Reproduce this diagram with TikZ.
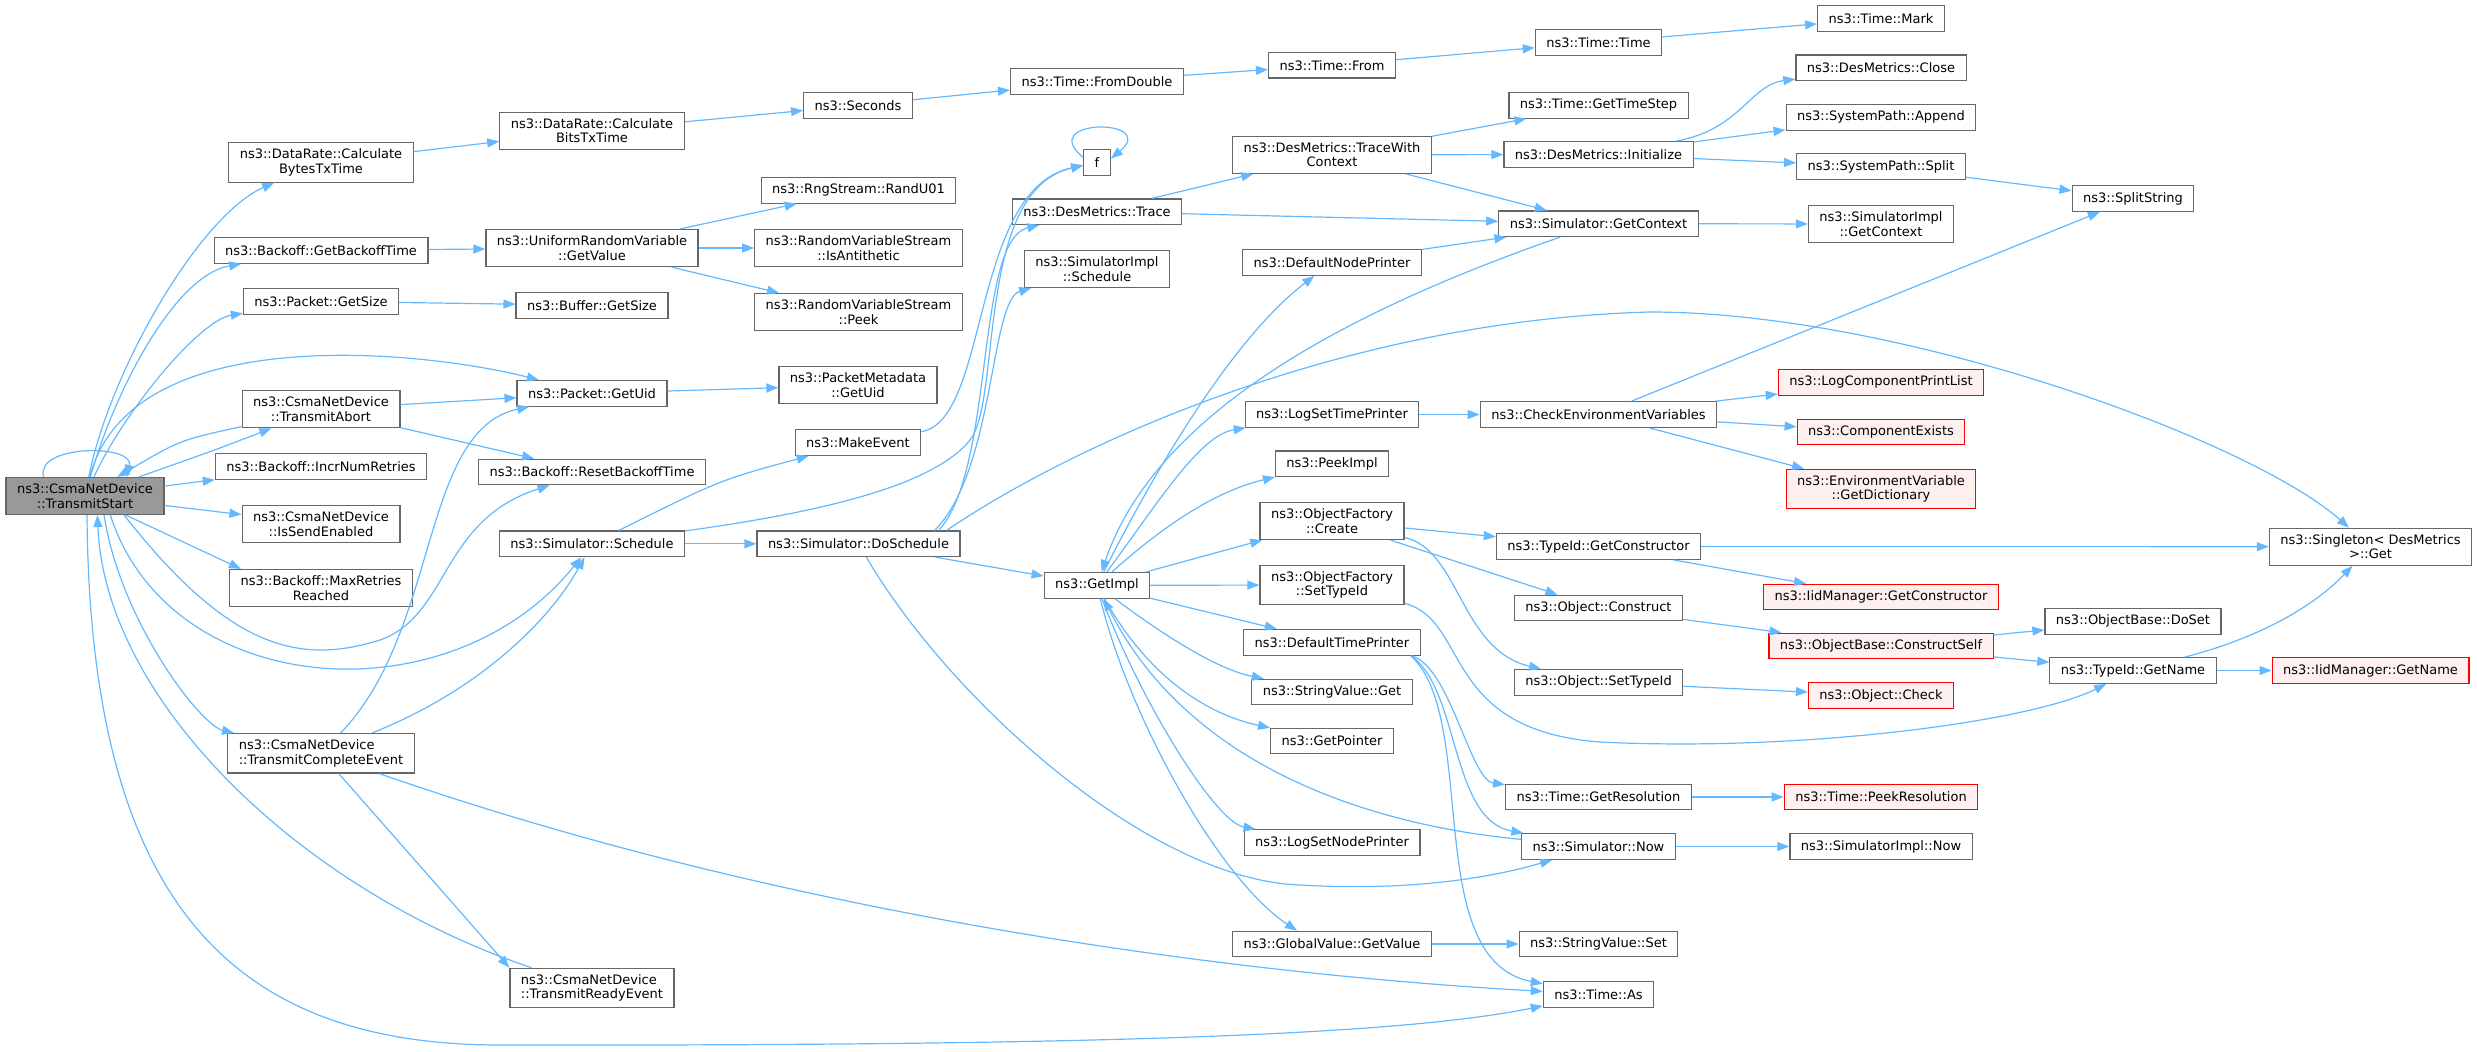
\documentclass[tikz,border=0pt]{standalone}
\usepackage{fontspec}
\setmainfont{DejaVu Sans}
\usetikzlibrary{arrows.meta}
\definecolor{edgeblue}{HTML}{63B8FF}
\definecolor{nodegray}{HTML}{666666}
\definecolor{curfill}{HTML}{999999}
\definecolor{redfill}{HTML}{FFF0F0}
\definecolor{redline}{HTML}{FF0000}
\begin{document}
\begin{tikzpicture}[x=1pt, y=-1pt,
	fn/.style = {draw = nodegray, fill = white, line width = 1.2pt, font = \fontsize{13}{14.5}\selectfont, inner xsep = 11pt, inner ysep = 6.2pt, minimum height = 25.6pt, align = center},
	fnleft/.style = {fn, align = left},
	fnred/.style = {fn, draw = redline, fill = redfill},
	fncur/.style = {fn, fill = curfill},
	call/.style = {draw = edgeblue, line width = 1.2pt, -{Triangle[length = 12pt, width = 9pt]}}]
	\useasboundingbox (0, 0) rectangle (2477, 1052);

	\node[fncur] (ts) at (85, 496) {ns3::CsmaNetDevice\\::TransmitStart};

	\node[fn] (bytesTx) at (321, 162.5) {ns3::DataRate::Calculate\\BytesTxTime};
	\node[fn] (getBackoff) at (321, 250.5) {ns3::Backoff::GetBackoffTime};
	\node[fn] (pktSize) at (321, 301.3) {ns3::Packet::GetSize};
	\node[fn] (txAbort) at (321, 409.3) {ns3::CsmaNetDevice\\::TransmitAbort};
	\node[fn] (incrRetries) at (321, 466.5) {ns3::Backoff::IncrNumRetries};
	\node[fn] (sendEnabled) at (321, 524) {ns3::CsmaNetDevice\\::IsSendEnabled};
	\node[fn] (maxRetries) at (321, 588) {ns3::Backoff::MaxRetries\\Reached};
	\node[fnleft] (txComplete) at (321, 753.3) {ns3::CsmaNetDevice\\::TransmitCompleteEvent};

	\node[fn] (bitsTx) at (592, 130.7) {ns3::DataRate::Calculate\\BitsTxTime};
	\node[fn] (urvGet) at (592, 248) {ns3::UniformRandomVariable\\::GetValue};
	\node[fn] (bufSize) at (592, 305.3) {ns3::Buffer::GetSize};
	\node[fn] (pktUid) at (592, 393.3) {ns3::Packet::GetUid};
	\node[fn] (resetBackoff) at (592, 472) {ns3::Backoff::ResetBackoffTime};
	\node[fn] (simSchedule) at (592, 543.8) {ns3::Simulator::Schedule};
	\node[fnleft] (txReady) at (592, 988) {ns3::CsmaNetDevice\\::TransmitReadyEvent};

	\node[fn] (seconds) at (858, 105.3) {ns3::Seconds};
	\node[fn] (randU01) at (858.5, 190.3) {ns3::RngStream::RandU01};
	\node[fn] (isAntithetic) at (858.5, 248) {ns3::RandomVariableStream\\::IsAntithetic};
	\node[fn] (peek) at (858.5, 312) {ns3::RandomVariableStream\\::Peek};
	\node[fn] (pmUid) at (858, 385.3) {ns3::PacketMetadata\\::GetUid};
	\node[fn] (makeEvent) at (858, 442.5) {ns3::MakeEvent};
	\node[fn] (doSchedule) at (858.5, 543.8) {ns3::Simulator::DoSchedule};

	\node[fn] (fromDouble) at (1097, 81.3) {ns3::Time::FromDouble};
	\node[fn] (f) at (1097, 162.3) {f};
	\node[fn] (desTrace) at (1097, 211.7) {ns3::DesMetrics::Trace};
	\node[fn] (simImplSchedule) at (1097, 269) {ns3::SimulatorImpl\\::Schedule};
	\node[fn] (getImpl) at (1097, 585.3) {ns3::GetImpl};

	\node[fn] (timeFrom) at (1332, 65.2) {ns3::Time::From};
	\node[fn] (traceWithContext) at (1332, 154.8) {ns3::DesMetrics::TraceWith\\Context};
	\node[fn] (defaultNodePrinter) at (1332, 262.5) {ns3::DefaultNodePrinter};
	\node[fn] (logSetTimePrinter) at (1332, 414.5) {ns3::LogSetTimePrinter};
	\node[fn] (peekImpl) at (1332, 463.7) {ns3::PeekImpl};
	\node[fn] (ofCreate) at (1332, 521) {ns3::ObjectFactory\\::Create};
	\node[fn] (ofSetTypeId) at (1332, 585) {ns3::ObjectFactory\\::SetTypeId};
	\node[fn] (defaultTimePrinter) at (1332, 642.3) {ns3::DefaultTimePrinter};
	\node[fn] (stringGet) at (1332, 692) {ns3::StringValue::Get};
	\node[fn] (getPointer) at (1332, 741) {ns3::GetPointer};
	\node[fn] (logSetNodePrinter) at (1332, 842.5) {ns3::LogSetNodePrinter};
	\node[fn] (globalGetValue) at (1332, 944) {ns3::GlobalValue::GetValue};

	\node[fn] (timeTime) at (1598.5, 42.3) {ns3::Time::Time};
	\node[fn] (getTimeStep) at (1598.5, 105.3) {ns3::Time::GetTimeStep};
	\node[fn] (desInit) at (1598.5, 154.5) {ns3::DesMetrics::Initialize};
	\node[fn] (getContext) at (1598.5, 223.7) {ns3::Simulator::GetContext};
	\node[fn] (checkEnv) at (1598.5, 414.5) {ns3::CheckEnvironmentVariables};
	\node[fn] (typeIdGetCtor) at (1598.5, 546.5) {ns3::TypeId::GetConstructor};
	\node[fn] (objConstruct) at (1598.5, 608) {ns3::Object::Construct};
	\node[fn] (objSetTypeId) at (1598.5, 682.3) {ns3::Object::SetTypeId};
	\node[fn] (timeGetRes) at (1598.5, 797) {ns3::Time::GetResolution};
	\node[fn] (simNow) at (1598.5, 846.5) {ns3::Simulator::Now};
	\node[fn] (stringSet) at (1598.5, 944) {ns3::StringValue::Set};
	\node[fn] (timeAs) at (1598.5, 994.5) {ns3::Time::As};

	\node[fn] (timeMark) at (1881, 18.5) {ns3::Time::Mark};
	\node[fn] (desClose) at (1881, 67.8) {ns3::DesMetrics::Close};
	\node[fn] (sysAppend) at (1881, 117.3) {ns3::SystemPath::Append};
	\node[fn] (sysSplit) at (1881, 166.5) {ns3::SystemPath::Split};
	\node[fn] (simImplGetContext) at (1881, 224) {ns3::SimulatorImpl\\::GetContext};
	\node[fnred] (logCompPrint) at (1881, 382.3) {ns3::LogComponentPrintList};
	\node[fnred] (compExists) at (1881, 432) {ns3::ComponentExists};
	\node[fnred] (envGetDict) at (1881, 489) {ns3::EnvironmentVariable\\::GetDictionary};
	\node[fnred] (iidGetCtor) at (1881, 597) {ns3::IidManager::GetConstructor};
	\node[fnred] (constructSelf) at (1881, 646) {ns3::ObjectBase::ConstructSelf};
	\node[fnred] (objCheck) at (1881, 695.5) {ns3::Object::Check};
	\node[fnred] (peekRes) at (1881, 797) {ns3::Time::PeekResolution};
	\node[fn] (simImplNow) at (1881, 846.5) {ns3::SimulatorImpl::Now};

	\node[fn] (splitString) at (2133, 198.5) {ns3::SplitString};
	\node[fn] (doSet) at (2133, 621.3) {ns3::ObjectBase::DoSet};
	\node[fn] (typeIdGetName) at (2133, 670.5) {ns3::TypeId::GetName};

	\node[fn] (singleton) at (2370.5, 546.7) {ns3::Singleton< DesMetrics\\>::Get};
	\node[fnred] (iidGetName) at (2370.5, 670.5) {ns3::IidManager::GetName};

	\draw[call] ([xshift = 38pt]ts.north west) .. controls (35, 444) and (135, 444) .. ([xshift = -38pt]ts.north east);
	\draw[call] (ts) .. controls (110, 370) and (200, 215) .. (bytesTx);
	\draw[call] (ts) .. controls (115, 390) and (175, 275) .. (getBackoff);
	\draw[call] (ts) .. controls (125, 410) and (200, 320) .. (pktSize);
	\draw[call] (ts) .. controls (130, 320) and (420, 350) .. (pktUid);
	\draw[call] (ts) .. controls (215, 450) .. (txAbort);
	\draw[call] (txAbort) .. controls (180, 440) .. (ts);
	\draw[call] (ts) -- (incrRetries);
	\draw[call] (ts) -- (sendEnabled);
	\draw[call] (ts) -- ([xshift = 12pt]maxRetries.north west);
	\draw[call] (ts.-26) .. controls (230, 650) and (300, 665) .. (380, 640) .. controls (450, 615) and (440, 520) .. (resetBackoff);
	\draw[call] (ts.-37) .. controls (170, 700) and (450, 720) .. (simSchedule);
	\draw[call] (ts.-45) .. controls (120, 620) and (200, 725) .. (txComplete);
	\draw[call] (txReady) .. controls (300, 890) and (105, 700) .. (ts.-57);
	\draw[call] (ts.-84) .. controls (90, 900) and (230, 1045) .. (500, 1045) .. controls (1100, 1046) and (1400, 1035) .. (timeAs);

	\draw[call] (txComplete) .. controls (800, 920) and (1250, 975) .. (timeAs);
	\draw[call] (txComplete) -- (txReady.north west);
	\draw[call] (txComplete) .. controls (440, 630) and (420, 430) .. (pktUid);
	\draw[call] (txComplete) .. controls (480, 690) and (550, 620) .. (simSchedule);
	\draw[call] (txAbort) -- (pktUid);
	\draw[call] (txAbort) -- (resetBackoff);

	\draw[call] (bytesTx) -- (bitsTx);
	\draw[call] (getBackoff) -- (urvGet);
	\draw[call] (pktSize) -- (bufSize);
	\draw[call] (pktUid) -- (pmUid);
	\draw[call] (bitsTx) -- (seconds);
	\draw[call] (seconds) -- (fromDouble);
	\draw[call] (urvGet) -- (randU01);
	\draw[call] (urvGet) -- (isAntithetic);
	\draw[call] (urvGet) -- (peek);

	\draw[call] (simSchedule) .. controls (720, 480) .. (makeEvent);
	\draw[call] (simSchedule) -- (doSchedule);
	\draw[call] (simSchedule) .. controls (800, 515) and (930, 490) .. (970, 440) .. controls (1002, 400) and (975, 190) .. (f);
	\draw[call] (makeEvent) .. controls (990, 420) and (970, 190) .. (f);
	\draw[call] (f.160) .. controls (1035, 118) and (1160, 118) .. (f.15);
	\draw[call] ([xshift = -22pt]doSchedule.north east) .. controls (995, 470) and (975, 240) .. (desTrace);
	\draw[call] ([xshift = -26pt]doSchedule.north east) .. controls (995, 470) and (990, 300) .. (simImplSchedule);
	\draw[call] ([xshift = -14pt]doSchedule.north east) .. controls (1080, 440) and (1350, 320) .. (1650, 312) .. controls (1900, 312) and (2250, 440) .. (singleton);
	\draw[call] (doSchedule) -- (getImpl);
	\draw[call] (doSchedule) .. controls (950, 700) and (1150, 880) .. (1300, 885) .. controls (1420, 892) and (1500, 875) .. (simNow);

	\draw[call] (getImpl) .. controls (1150, 480) and (1230, 340) .. (defaultNodePrinter);
	\draw[call] (getContext) .. controls (1380, 300) and (1160, 400) .. (getImpl);
	\draw[call] (getImpl) .. controls (1160, 500) and (1200, 435) .. (logSetTimePrinter);
	\draw[call] (getImpl) .. controls (1170, 520) and (1220, 490) .. (peekImpl);
	\draw[call] (getImpl) -- (ofCreate);
	\draw[call] (getImpl) -- (ofSetTypeId);
	\draw[call] (getImpl) -- (defaultTimePrinter);
	\draw[call] (getImpl) .. controls (1170, 640) and (1220, 670) .. (stringGet);
	\draw[call] (getImpl) .. controls (1150, 680) and (1210, 715) .. (getPointer);
	\draw[call] (getImpl) .. controls (1140, 700) and (1215, 822) .. (logSetNodePrinter);
	\draw[call] (getImpl) .. controls (1130, 720) and (1220, 880) .. ([xshift = 65pt]globalGetValue.north west);
	\draw[call] (simNow) .. controls (1420, 830) and (1200, 790) .. (getImpl);

	\draw[call] ([xshift = -10pt]defaultTimePrinter.south east) .. controls (1450, 665) and (1470, 780) .. (timeGetRes);
	\draw[call] ([xshift = -10pt]defaultTimePrinter.south east) .. controls (1460, 690) and (1450, 820) .. (simNow);
	\draw[call] ([xshift = -10pt]defaultTimePrinter.south east) .. controls (1480, 720) and (1420, 960) .. (timeAs);
	\draw[call] (timeGetRes) -- (peekRes);
	\draw[call] (simNow) -- (simImplNow);
	\draw[call] (globalGetValue) -- (stringSet);

	\draw[call] (ofCreate) -- (typeIdGetCtor);
	\draw[call] (ofCreate) -- (objConstruct);
	\draw[call] (ofCreate) .. controls (1460, 550) and (1460, 650) .. (objSetTypeId);
	\draw[call] (ofSetTypeId) .. controls (1470, 620) and (1440, 730) .. (1600, 742) .. controls (1800, 752) and (2030, 722) .. (typeIdGetName);
	\draw[call] (typeIdGetCtor) -- (singleton);
	\draw[call] (typeIdGetCtor) -- (iidGetCtor);
	\draw[call] (objConstruct) -- (constructSelf);
	\draw[call] (objSetTypeId) -- (objCheck);
	\draw[call] (constructSelf) -- (doSet);
	\draw[call] (constructSelf) -- (typeIdGetName);
	\draw[call] (typeIdGetName) .. controls (2270, 635) and (2320, 600) .. (singleton);
	\draw[call] (typeIdGetName) -- (iidGetName);

	\draw[call] (logSetTimePrinter) -- (checkEnv);
	\draw[call] (checkEnv) -- (splitString);
	\draw[call] (checkEnv) -- (logCompPrint);
	\draw[call] (checkEnv) -- (compExists);
	\draw[call] (checkEnv) -- (envGetDict);

	\draw[call] (desTrace) -- (traceWithContext);
	\draw[call] (desTrace) -- (getContext);
	\draw[call] (traceWithContext) -- (getTimeStep);
	\draw[call] (traceWithContext) -- (desInit);
	\draw[call] (traceWithContext) -- (getContext);
	\draw[call] (defaultNodePrinter) -- (getContext);
	\draw[call] (getContext) -- (simImplGetContext);
	\draw[call] (desInit) .. controls (1740, 130) and (1750, 85) .. (desClose);
	\draw[call] (desInit) -- (sysAppend);
	\draw[call] (desInit) -- (sysSplit);
	\draw[call] (sysSplit) -- (splitString);
	\draw[call] (fromDouble) -- (timeFrom);
	\draw[call] (timeFrom) -- (timeTime);
	\draw[call] (timeTime) -- (timeMark);
\end{tikzpicture}
\end{document}
